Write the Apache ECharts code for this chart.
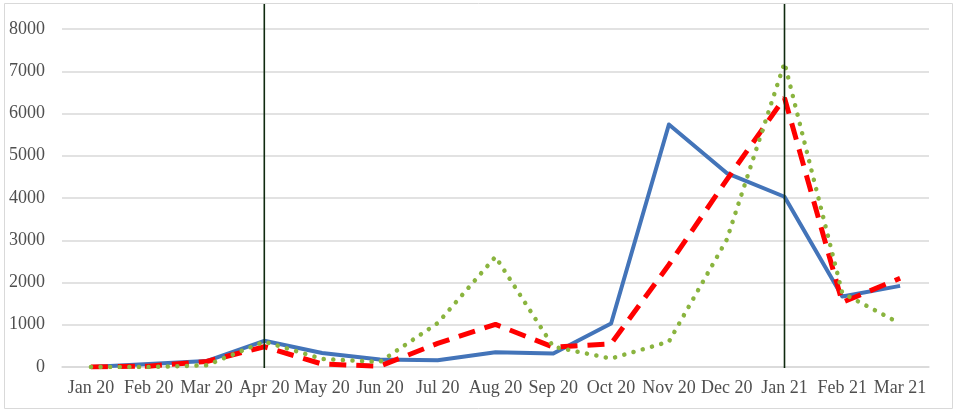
<!DOCTYPE html>
<html><head><meta charset="utf-8">
<script src="https://cdn.jsdelivr.net/npm/echarts@6/dist/echarts.min.js"></script>
<style>html,body{margin:0;padding:0;background:#fff}#c{width:957px;height:412px}</style>
</head><body><div id="c"></div>
<script>
const categories = ['Jan 20','Feb 20','Mar 20','Apr 20','May 20','Jun 20','Jul 20','Aug 20','Sep 20','Oct 20','Nov 20','Dec 20','Jan 21','Feb 21','Mar 21'];
const blueSeries  = [0, 70, 140, 620, 330, 180, 160, 350, 320, 1030, 5740, 4590, 4030, 1670, 1920];
const redSeries   = [0, 20, 130, 480, 70, 20, 560, 1010, 470, 550, 2420, 4430, 6370, 1530, 2100];
const greenSeries = [0, 0, 40, 600, 190, 120, 1040, 2610, 480, 200, 600, 3010, 7200, 1750, 1030];
const yTicks = {min: 0, max: 8000, interval: 1000};
const markerCategories = ['Apr 20', 'Jan 21'];

const chart = echarts.init(document.getElementById('c'), null, {renderer: 'canvas'});
const font = 'Liberation Serif';
chart.setOption({
  animation: false,
  grid: {left: 62, right: 28, top: 29, bottom: 45},
  xAxis: {
    type: 'category', data: categories, boundaryGap: true,
    axisLine: {lineStyle: {color: '#d9d9d9', width: 1.5}},
    axisTick: {show: false},
    axisLabel: {color: '#4f4f4f', fontFamily: font, fontSize: 18, margin: 12, interval: 0}
  },
  yAxis: {
    type: 'value', min: yTicks.min, max: yTicks.max, interval: yTicks.interval,
    axisLine: {show: false}, axisTick: {show: false},
    axisLabel: {color: '#4f4f4f', fontFamily: font, fontSize: 18, margin: 17,
      formatter: function (v) { return String(v); }},
    splitLine: {lineStyle: {color: '#d9d9d9', width: 1.5}}
  },
  series: [
    {type: 'line', data: blueSeries, symbol: 'none', z: 2,
     lineStyle: {color: '#4374b9', width: 4, join: 'round'}},
    {type: 'line', data: redSeries, symbol: 'none', z: 3,
     lineStyle: {color: '#ff0000', width: 5, type: [17, 10], cap: 'butt'}},
    {type: 'line', data: greenSeries, symbol: 'none', z: 4,
     lineStyle: {color: '#8ab43f', width: 4.5, type: [0.1, 9.5], cap: 'round'}}
  ]
});

const elements = [{
  type: 'rect', shape: {x: 4.5, y: 3.5, width: 948, height: 405},
  style: {fill: 'none', stroke: '#d9d9d9', lineWidth: 1}, z: 0, silent: true
}];
markerCategories.forEach(function (c) {
  const top = chart.convertToPixel({xAxisIndex: 0}, c);
  const y0 = chart.convertToPixel({yAxisIndex: 0}, 0);
  elements.push({
    type: 'line', shape: {x1: top, y1: 4, x2: top, y2: y0 + 1},
    style: {stroke: '#0f2a0f', lineWidth: 1.6}, z: 10, silent: true
  });
});
chart.setOption({graphic: elements});
</script></body></html>
